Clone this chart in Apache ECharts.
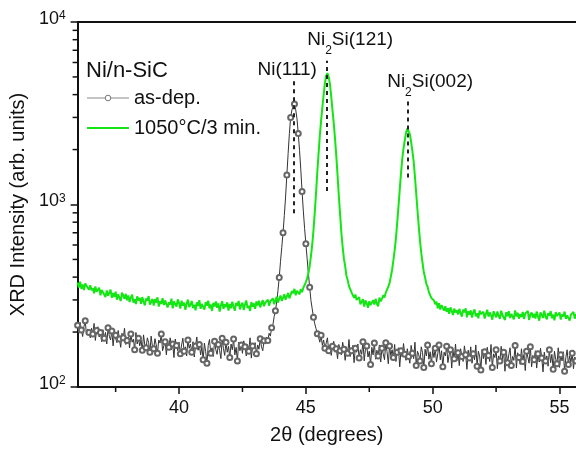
<!DOCTYPE html>
<html>
<head>
<meta charset="utf-8">
<script src="https://cdn.jsdelivr.net/npm/echarts@6/dist/echarts.min.js"></script>
<style>html,body{margin:0;padding:0;background:#fff}#c{width:576px;height:450px}</style>
</head>
<body>
<div id="c"></div>
<script>
// 2-theta positions (degrees)
const angles = [
36.00,36.05,36.10,36.15,36.20,36.25,36.30,36.35,36.40,36.45,36.50,36.55,36.60,36.65,36.70,36.75,36.80,36.85,36.90,36.95,
37.00,37.05,37.10,37.15,37.20,37.25,37.30,37.35,37.40,37.45,37.50,37.55,37.60,37.65,37.70,37.75,37.80,37.85,37.90,37.95,
38.00,38.05,38.10,38.15,38.20,38.25,38.30,38.35,38.40,38.45,38.50,38.55,38.60,38.65,38.70,38.75,38.80,38.85,38.90,38.95,
39.00,39.05,39.10,39.15,39.20,39.25,39.30,39.35,39.40,39.45,39.50,39.55,39.60,39.65,39.70,39.75,39.80,39.85,39.90,39.95,
40.00,40.05,40.10,40.15,40.20,40.25,40.30,40.35,40.40,40.45,40.50,40.55,40.60,40.65,40.70,40.75,40.80,40.85,40.90,40.95,
41.00,41.05,41.10,41.15,41.20,41.25,41.30,41.35,41.40,41.45,41.50,41.55,41.60,41.65,41.70,41.75,41.80,41.85,41.90,41.95,
42.00,42.05,42.10,42.15,42.20,42.25,42.30,42.35,42.40,42.45,42.50,42.55,42.60,42.65,42.70,42.75,42.80,42.85,42.90,42.95,
43.00,43.05,43.10,43.15,43.20,43.25,43.30,43.35,43.40,43.45,43.50,43.55,43.60,43.65,43.70,43.75,43.80,43.85,43.90,43.95,
44.00,44.05,44.10,44.15,44.20,44.25,44.30,44.35,44.40,44.45,44.50,44.55,44.60,44.65,44.70,44.75,44.80,44.85,44.90,44.95,
45.00,45.05,45.10,45.15,45.20,45.25,45.30,45.35,45.40,45.45,45.50,45.55,45.60,45.65,45.70,45.75,45.80,45.85,45.90,45.95,
46.00,46.05,46.10,46.15,46.20,46.25,46.30,46.35,46.40,46.45,46.50,46.55,46.60,46.65,46.70,46.75,46.80,46.85,46.90,46.95,
47.00,47.05,47.10,47.15,47.20,47.25,47.30,47.35,47.40,47.45,47.50,47.55,47.60,47.65,47.70,47.75,47.80,47.85,47.90,47.95,
48.00,48.05,48.10,48.15,48.20,48.25,48.30,48.35,48.40,48.45,48.50,48.55,48.60,48.65,48.70,48.75,48.80,48.85,48.90,48.95,
49.00,49.05,49.10,49.15,49.20,49.25,49.30,49.35,49.40,49.45,49.50,49.55,49.60,49.65,49.70,49.75,49.80,49.85,49.90,49.95,
50.00,50.05,50.10,50.15,50.20,50.25,50.30,50.35,50.40,50.45,50.50,50.55,50.60,50.65,50.70,50.75,50.80,50.85,50.90,50.95,
51.00,51.05,51.10,51.15,51.20,51.25,51.30,51.35,51.40,51.45,51.50,51.55,51.60,51.65,51.70,51.75,51.80,51.85,51.90,51.95,
52.00,52.05,52.10,52.15,52.20,52.25,52.30,52.35,52.40,52.45,52.50,52.55,52.60,52.65,52.70,52.75,52.80,52.85,52.90,52.95,
53.00,53.05,53.10,53.15,53.20,53.25,53.30,53.35,53.40,53.45,53.50,53.55,53.60,53.65,53.70,53.75,53.80,53.85,53.90,53.95,
54.00,54.05,54.10,54.15,54.20,54.25,54.30,54.35,54.40,54.45,54.50,54.55,54.60,54.65,54.70,54.75,54.80,54.85,54.90,54.95,
55.00,55.05,55.10,55.15,55.20,55.25,55.30,55.35,55.40,55.45,55.50,55.55,55.60,55.65,55.70
];

// as-deposited intensity (arb. units)
const asDep = [
218,197,226,205,189,214,231,193,208,199,
186,210,195,223,180,204,214,188,199,177,
206,185,199,172,211,190,181,203,168,196,
192,175,204,183,165,197,186,210,171,180,
188,164,195,176,183,160,199,172,185,168,
181,159,193,170,164,186,175,155,190,167,
162,184,170,153,181,174,195,158,168,177,
150,179,165,186,160,172,145,183,169,158,
176,152,170,185,157,166,148,181,163,172,
155,177,146,168,188,159,171,150,166,141,
174,156,135,169,182,153,164,147,178,160,
151,171,158,143,185,162,149,176,155,167,
145,172,160,183,150,165,139,176,158,170,
153,179,166,148,171,157,186,144,168,162,
175,152,170,161,184,166,158,179,172,188,
180,197,190,211,219,243,
262,292,338,398,
488,582,700,870,1100,1450,1900,2450,3000,3300,
3450,3550,3300,2950,2450,1980,1550,1180,920,740,
610,505,418,352,298,268,241,222,209,196,
188,176,192,169,181,163,174,186,158,170,
149,167,178,155,162,143,171,158,150,176,
161,140,166,153,182,147,158,169,136,163,
155,172,144,160,151,177,139,162,168,146,
157,133,165,150,174,142,159,148,170,137,
163,152,141,175,156,134,168,149,160,145,
171,138,155,164,129,158,146,173,151,140,
162,147,135,169,153,143,176,131,157,150,
139,166,154,128,161,148,170,142,156,134,
159,
145,163,137,152,170,141,158,129,155,
148,167,136,151,160,127,157,143,172,139,
154,131,162,147,138,168,150,125,159,144,
166,135,152,141,170,130,157,148,124,161,
143,156,133,165,149,138,171,128,152,145,
160,126,148,139,167,142,155,122,158,136,
150,164,131,147,140,169,127,154,145,133,
162,138,151,123,157,146,135,166,129,149,
141,158,127,152,137,163,144,121,155,139,
148,130,160,136,151,125,157,142,134,164,
128,150,139,156,122,145,160,133,148,137,
153,126,146,139,158
];

// annealed 1050 °C / 3 min intensity (arb. units)
const annealed = [
374,351,378,345,364,340,369,372,350,341,
361,339,348,326,356,333,329,350,318,340,
345,321,311,338,316,329,341,308,327,312,
333,301,322,314,296,329,318,304,324,299,
317,292,309,321,290,303,285,314,298,308,
286,311,294,280,305,297,315,283,292,304,
279,303,290,310,276,295,286,307,281,298,
300,273,291,283,305,270,294,287,276,302,
288,269,297,279,290,265,286,301,274,283,
296,271,282,263,291,278,299,268,285,274,
266,292,279,297,270,283,261,289,276,294,
272,287,259,280,295,268,284,274,291,262,
285,270,293,276,262,289,279,296,266,281,
290,264,283,298,271,279,261,292,275,287,
268,294,280,297,273,286,299,277,290,283,
301,279,295,288,306,284,
299,312,290,305,
317,296,309,322,301,314,328,306,320,335,
326,345,318,337,330,322,344,331,350,362,
376,394,421,459,521,602,722,903,1150,1500,
1900,2380,2880,3400,3980,4620,5080,5250,5000,4550,
3900,3280,2780,2290,1840,1440,1110,880,700,585,
505,458,407,384,357,351,330,329,308,321,
300,293,311,284,290,303,276,298,287,272,
295,281,274,299,283,304,286,277,309,295,
304,318,309,329,336,355,372,403,439,494,
560,652,790,970,1200,1480,1780,2030,2250,2480,
2610,2590,2430,2200,1960,1720,1420,1150,930,762,
632,541,478,425,398,366,354,331,326,307,
300,
298,284,293,270,288,266,281,274,262,
277,258,270,252,273,261,248,269,256,263,
250,268,254,243,265,257,270,241,260,249,
263,240,257,266,244,254,238,262,251,245,
258,237,252,265,243,256,247,234,260,250,
241,259,245,236,262,248,253,233,257,244,
260,239,251,246,235,263,244,255,237,250,
242,258,236,253,247,261,233,249,256,240,
252,237,259,244,231,256,248,239,262,243,
235,254,246,260,238,249,232,257,245,241,
256,234,250,243,259,236,247,253,231,249,
244,258,237,251,240
];

const seriesNames = ['as-dep.', '1050°C/3 min.'];
const xTickValues = [40, 45, 50, 55];
const xMinorTicks = [37.5, 42.5, 47.5, 52.5];
const yTickValues = [100, 1000, 10000];
const yMinorTicks = [200,300,400,500,600,700,800,900,2000,3000,4000,5000,6000,7000,8000,9000];

// peak annotations
const peakLabels = ['{n|Ni(111)}', '{n|Ni}{sub|2}{n|Si(121)}', '{n|Ni}{sub|2}{n|Si(002)}'];
const peakAngles = [44.54, 45.84, 49.03];
const peakLineTop = [4750, 6140, 3725];
const peakLineBottom = [895, 1186, 1406];
const peakLabelOffsets = [[-7, -1], [23, -4], [22, -2]];

const FONT = "'Liberation Sans', Arial, Helvetica, sans-serif";
const INK = '#111';
const GREEN = '#14e614';
const X_MIN = 36, X_MAX = 55.65;

const chart = echarts.init(document.getElementById('c'), null, {renderer: 'canvas'});

const zip = (xs, ys) => xs.map((x, i) => [x, ys[i]]);

const markLineData = peakAngles.map((a, i) => [
  {
    coord: [a, peakLineBottom[i]],
    label: {
      show: true, position: 'end', distance: 0,
      offset: peakLabelOffsets[i],
      formatter: peakLabels[i]
    }
  },
  {coord: [a, peakLineTop[i]]}
]);

const option = {
  animation: false,
  backgroundColor: '#ffffff',
  textStyle: {fontFamily: FONT},
  title: {
    text: 'Ni/n-SiC', left: 86, top: 60, padding: 0,
    textStyle: {fontSize: 22, fontWeight: 'normal', color: INK, fontFamily: FONT, lineHeight: 22}
  },
  legend: {
    data: [
      {name: seriesNames[0], itemStyle: {color: '#ffffff', borderColor: '#777', borderWidth: 1},
       lineStyle: {color: '#8a8a8a', width: 1}},
      {name: seriesNames[1], itemStyle: {opacity: 0}, lineStyle: {color: GREEN, width: 2, opacity: 1}}
    ],
    orient: 'vertical', left: 86, top: 88,
    itemWidth: 42, itemHeight: 7, itemGap: 10,
    padding: 0,
    textStyle: {fontSize: 20, color: INK, fontFamily: FONT, lineHeight: 20}
  },
  grid: {left: 77, right: 0, top: 22, bottom: 50},
  xAxis: [{
    type: 'value', min: X_MIN, max: X_MAX, position: 'bottom',
    axisLine: {onZero: false, lineStyle: {color: INK, width: 2}},
    axisTick: {customValues: xTickValues, length: 7, lineStyle: {color: INK, width: 1.5}},
    axisLabel: {customValues: xTickValues, margin: 12, fontSize: 18, color: INK, fontFamily: FONT},
    splitLine: {show: false},
    name: '2θ (degrees)', nameLocation: 'middle', nameGap: 38,
    nameTextStyle: {fontSize: 20, color: INK, fontFamily: FONT}
  }, {
    type: 'value', min: X_MIN, max: X_MAX, position: 'top',
    axisLine: {onZero: false, lineStyle: {color: INK, width: 2}},
    axisTick: {show: false}, axisLabel: {show: false}, splitLine: {show: false}
  }],
  yAxis: {
    type: 'log', logBase: 10, min: 100, max: 10000,
    axisLine: {show: true, onZero: false, lineStyle: {color: INK, width: 2}},
    axisTick: {show: true, customValues: yTickValues, length: 7, lineStyle: {color: INK, width: 1.5}},
    axisLabel: {
      customValues: yTickValues,
      margin: 12, color: INK, fontFamily: FONT,
      formatter: v => '{b|10}{s|' + Math.round(Math.log10(v)) + '}',
      rich: {
        b: {fontSize: 18, lineHeight: 24, verticalAlign: 'top', color: INK, fontFamily: FONT},
        s: {fontSize: 12, lineHeight: 12, verticalAlign: 'top', color: INK, fontFamily: FONT}
      }
    },
    splitLine: {show: false},
    name: 'XRD Intensity (arb. units)', nameLocation: 'middle', nameGap: 36, nameRotate: 90,
    nameTextStyle: {fontSize: 20, color: INK, fontFamily: FONT}
  },
  series: [
    {
      name: seriesNames[0], type: 'line',
      data: zip(angles, asDep),
      clip: true,
      showSymbol: true, showAllSymbol: true,
      symbol: (v, p) => (p.dataIndex % 3 === 0 ? 'emptyCircle' : 'none'),
      symbolSize: 5,
      lineStyle: {color: '#333', width: 1},
      itemStyle: {color: '#666', borderWidth: 1},
      emphasis: {disabled: true},
      z: 2
    },
    {
      name: seriesNames[1], type: 'line',
      data: zip(angles, annealed),
      clip: true,
      symbol: 'none',
      lineStyle: {color: GREEN, width: 2},
      itemStyle: {color: GREEN},
      emphasis: {disabled: true},
      z: 3,
      markLine: {
        silent: true, animation: false,
        symbol: ['none', 'none'],
        lineStyle: {color: '#222', type: [4, 4], width: 2},
        label: {
          color: INK, fontFamily: FONT,
          rich: {
            n: {fontSize: 19, lineHeight: 20, verticalAlign: 'top', color: INK, fontFamily: FONT},
            sub: {fontSize: 12, lineHeight: 26, verticalAlign: 'bottom', color: INK, fontFamily: FONT}
          }
        },
        emphasis: {disabled: true},
        data: markLineData
      }
    },
    {
      type: 'custom', name: 'yMinorTicks', silent: true, z: 5,
      data: yMinorTicks.map(v => [X_MIN, v]),
      renderItem: (params, api) => {
        const p = api.coord([api.value(0), api.value(1)]);
        return {type: 'line', shape: {x1: p[0] - 5, y1: p[1], x2: p[0], y2: p[1]},
                style: {stroke: INK, lineWidth: 1.5}};
      }
    },
    {
      type: 'custom', name: 'xMinorTicks', silent: true, z: 5,
      data: xMinorTicks.map(v => [v, 100]),
      renderItem: (params, api) => {
        const p = api.coord([api.value(0), api.value(1)]);
        return {type: 'line', shape: {x1: p[0], y1: p[1], x2: p[0], y2: p[1] + 5},
                style: {stroke: INK, lineWidth: 1.5}};
      }
    }
  ]
};

chart.setOption(option);
</script>
</body>
</html>
